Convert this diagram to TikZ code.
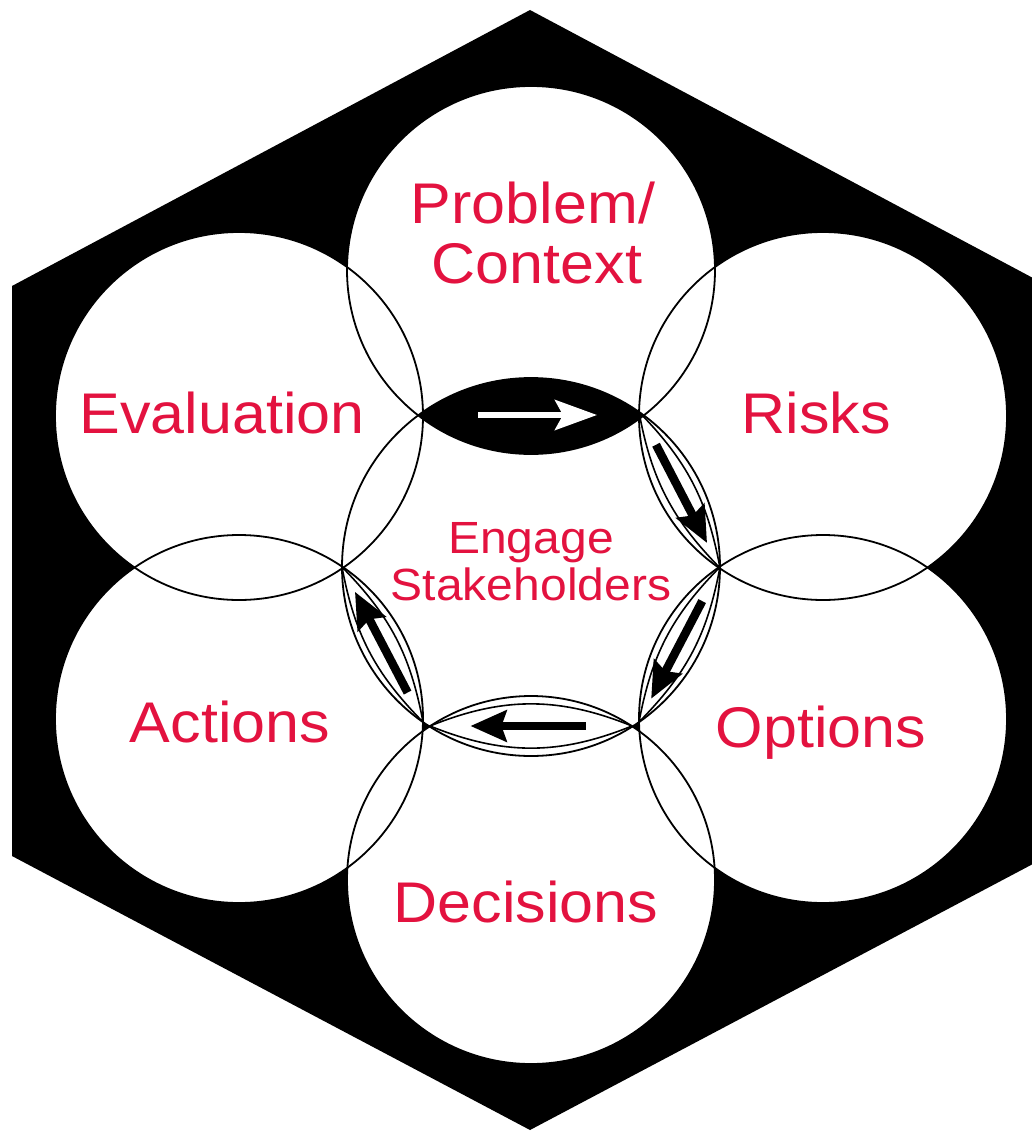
\documentclass[tikz,border=0pt]{standalone}
\usepackage{fontspec}
\setmainfont{Liberation Sans}
\usetikzlibrary{arrows.meta,calc}
\definecolor{labelred}{HTML}{E3123F}
\begin{document}
\begin{tikzpicture}[x=1pt,y=-1pt,
  ring/.style={line width=1.8pt,draw=black},
  inlens/.style={line width=1.6pt,draw=black},
  blackarrow/.style={draw=black,line width=8.5pt,-{Stealth[length=36pt,width=31pt,inset=5pt]}},
  whitearrow/.style={draw=white,line width=6pt,-{Stealth[length=42pt,width=30pt,inset=8pt]}},
  lbl/.style={text=labelred,font=\fontsize{61}{61}\selectfont,inner sep=0pt,anchor=base,yscale=0.94},
  lblsmall/.style={text=labelred,font=\fontsize{48}{48}\selectfont,inner sep=0pt,anchor=base,yscale=0.94}]
\useasboundingbox (0,0) rectangle (1032,1132);
\clip (0,0) rectangle (1032,1132);
\fill[white] (0,0) rectangle (1032,1132);
% hexagon
\fill[black] (530,10) -- (1048,286) -- (1048,856) -- (530,1130) -- (12,856) -- (12,286) -- cycle;
% circle centres
\coordinate (cC) at (531,567);
\coordinate (cP) at (531,270);
\coordinate (cR) at (823,416);
\coordinate (cO) at (823,719);
\coordinate (cD) at (531,880);
\coordinate (cA) at (239,719);
\coordinate (cE) at (239,416);
% white discs
\fill[white] (cP) circle[radius=184pt];
\fill[white] (cR) circle[radius=184pt];
\fill[white] (cO) circle[radius=184pt];
\fill[white] (cD) circle[radius=184pt];
\fill[white] (cA) circle[radius=184pt];
\fill[white] (cE) circle[radius=184pt];
\fill[white] (cC) circle[radius=189pt];
% black lens
\begin{scope}
  \clip (cC) circle[radius=189pt];
  \fill[black] (cP) circle[radius=184pt];
\end{scope}
% outlines
\draw[ring] (cP) circle[radius=184pt];
\draw[ring] (cR) circle[radius=184pt];
\draw[ring] (cO) circle[radius=184pt];
\draw[ring] (cD) circle[radius=184pt];
\draw[ring] (cA) circle[radius=184pt];
\draw[ring] (cE) circle[radius=184pt];
\draw[ring] (cC) circle[radius=189pt];
% lens tips
\coordinate (r1) at (639,412); \coordinate (r2) at (720,568);
\coordinate (o1) at (720,567); \coordinate (o2) at (639,722);
\coordinate (d1) at (632,726); \coordinate (d2) at (430,726);
\coordinate (a1) at (423,722); \coordinate (a2) at (342,567);
% inner lenses
\draw[inlens] (r1) to[bend left=17] (r2) to[bend left=17] (r1);
\draw[inlens] (o1) to[bend left=17] (o2) to[bend left=17] (o1);
\draw[inlens] (d1) to[bend left=22] (d2) to[bend left=22] (d1);
\draw[inlens] (a1) to[bend left=17] (a2) to[bend left=17] (a1);
% arrows
\coordinate (ws) at (478,415); \coordinate (we) at (597,415);
\draw[whitearrow] (ws) -- (we);
\coordinate (rs) at ($(r1)!0.21!(r2)$); \coordinate (re) at ($(r1)!0.84!(r2)$);
\coordinate (os) at ($(o1)!0.22!(o2)$); \coordinate (oe) at ($(o1)!0.85!(o2)$);
\coordinate (ds) at ($(d1)!0.23!(d2)$); \coordinate (de) at ($(d1)!0.80!(d2)$);
\coordinate (as) at ($(a1)!0.19!(a2)$); \coordinate (ae) at ($(a1)!0.84!(a2)$);
\draw[blackarrow] (rs) -- (re);
\draw[blackarrow] (os) -- (oe);
\draw[blackarrow] (ds) -- (de);
\draw[blackarrow] (as) -- (ae);
% labels
\node[lbl] (prob1) at (533,223) {Problem/};
\node[lbl] (prob2) at (537,283) {Context};
\node[lbl] (eval) at (222,433) {Evaluation};
\node[lbl] (risk) at (816,433) {Risks};
\node[lbl] (act) at (230,742) {Actions};
\node[lbl] (opt) at (821,747) {Options};
\node[lbl] (dec) at (526,922) {Decisions};
\node[lblsmall] (eng1) at (531,553) {Engage};
\node[lblsmall] (eng2) at (531,600) {Stakeholders};
\end{tikzpicture}
\end{document}
